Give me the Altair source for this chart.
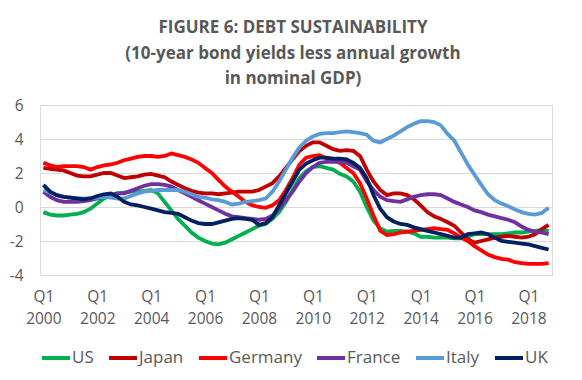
import altair as alt
import pandas as pd

# ---- data (quarterly, 2000Q1 .. 2018Q4) ----
start_year = 2000
n_quarters = 76
tick_years = [2000, 2002, 2004, 2006, 2008, 2010, 2012, 2014, 2016, 2018]
countries = ["US", "Japan", "Germany", "France", "Italy", "UK"]
colors = ["#00B050", "#C00000", "#FF0000", "#7030A0", "#5B9BD5", "#002060"]

us = [-0.3, -0.45, -0.5, -0.5, -0.45, -0.4, -0.3, -0.1,
      0.2, 0.5, 0.7, 0.8, 0.85, 0.9, 0.9, 0.95,
      1.0, 0.8, 0.3, -0.2, -0.7, -1.1, -1.5, -1.8,
      -2.0, -2.15, -2.2, -2.1, -1.9, -1.7, -1.5, -1.3,
      -1.1, -1.0, -0.7, -0.3, 0.3, 1.0, 1.7, 2.1,
      2.35, 2.4, 2.3, 2.2, 1.95, 1.8, 1.5, 0.9,
      0.0, -0.8, -1.25, -1.45, -1.4, -1.4, -1.45, -1.55,
      -1.75, -1.75, -1.8, -1.8, -1.8, -1.85, -1.85, -1.75,
      -1.6, -1.6, -1.6, -1.6, -1.6, -1.55, -1.5, -1.5,
      -1.45, -1.4, -1.35, -1.4]
japan = [2.3, 2.25, 2.2, 2.15, 2.0, 1.85, 1.8, 1.8,
         1.9, 2.0, 2.0, 1.85, 1.7, 1.75, 1.8, 1.9,
         1.95, 1.85, 1.75, 1.5, 1.3, 1.1, 0.95, 0.85,
         0.8, 0.8, 0.75, 0.8, 0.85, 0.9, 0.9, 0.9,
         1.0, 1.2, 1.4, 1.8, 2.3, 2.8, 3.3, 3.6,
         3.8, 3.8, 3.6, 3.4, 3.3, 3.35, 3.3, 3.0,
         2.2, 1.5, 1.0, 0.7, 0.8, 0.8, 0.7, 0.45,
         0.1, -0.3, -0.55, -0.7, -0.9, -1.1, -1.5, -1.9,
         -2.1, -2.0, -1.9, -1.8, -1.75, -1.7, -1.75, -1.8,
         -1.75, -1.6, -1.3, -1.05]
germany = [2.6, 2.45, 2.35, 2.4, 2.4, 2.4, 2.35, 2.2,
           2.35, 2.45, 2.5, 2.6, 2.75, 2.85, 2.95, 3.0,
           3.0, 2.95, 3.0, 3.15, 3.05, 2.95, 2.8, 2.6,
           2.3, 2.0, 1.6, 1.2, 0.9, 0.6, 0.3, 0.1,
           0.0, -0.05, 0.1, 0.4, 1.0, 1.7, 2.5, 2.9,
           3.0, 3.05, 2.85, 2.75, 2.6, 2.3, 2.0, 1.4,
           0.5, -0.5, -1.4, -1.65, -1.6, -1.5, -1.45, -1.4,
           -1.35, -1.3, -1.25, -1.3, -1.35, -1.55, -1.8, -2.0,
           -2.3, -2.55, -2.8, -2.95, -3.05, -3.1, -3.25, -3.3,
           -3.35, -3.35, -3.35, -3.3]
france = [0.9, 0.6, 0.4, 0.3, 0.3, 0.3, 0.35, 0.4,
          0.5, 0.6, 0.7, 0.8, 0.8, 0.95, 1.1, 1.25,
          1.35, 1.35, 1.3, 1.2, 1.0, 0.8, 0.6, 0.4,
          0.2, 0.0, -0.2, -0.4, -0.55, -0.6, -0.65, -0.7,
          -0.75, -0.7, -0.5, -0.1, 0.4, 0.9, 1.5, 2.0,
          2.35, 2.6, 2.65, 2.65, 2.65, 2.6, 2.4, 2.2,
          1.5, 1.0, 0.6, 0.4, 0.35, 0.3, 0.45, 0.6,
          0.7, 0.75, 0.75, 0.7, 0.5, 0.3, 0.15, 0.0,
          -0.2, -0.3, -0.45, -0.55, -0.65, -0.75, -0.9, -1.15,
          -1.35, -1.45, -1.5, -1.6]
italy = [1.0, 0.85, 0.7, 0.6, 0.55, 0.5, 0.5, 0.5,
         0.55, 0.6, 0.55, 0.5, 0.5, 0.65, 0.8, 0.9,
         0.95, 1.0, 1.0, 1.0, 1.0, 0.9, 0.75, 0.6,
         0.55, 0.45, 0.4, 0.3, 0.15, 0.2, 0.3, 0.35,
         0.4, 0.5, 0.9, 1.5, 2.2, 2.9, 3.5, 3.9,
         4.15, 4.3, 4.35, 4.35, 4.4, 4.45, 4.4, 4.35,
         4.25, 3.9, 3.8, 4.0, 4.2, 4.45, 4.7, 4.9,
         5.05, 5.05, 5.0, 4.8, 4.3, 3.9, 3.2, 2.5,
         1.9, 1.3, 0.75, 0.4, 0.2, 0.05, -0.15, -0.3,
         -0.4, -0.45, -0.35, -0.05]
uk = [1.3, 0.9, 0.7, 0.6, 0.55, 0.5, 0.45, 0.5,
      0.65, 0.75, 0.8, 0.6, 0.3, 0.15, 0.1, 0.0,
      -0.1, -0.2, -0.3, -0.35, -0.4, -0.6, -0.8, -0.95,
      -1.0, -1.0, -0.9, -0.8, -0.7, -0.65, -0.7, -0.75,
      -1.05, -0.95, -0.6, 0.1, 0.8, 1.5, 2.2, 2.55,
      2.75, 2.9, 2.9, 2.85, 2.85, 2.8, 2.6, 2.3,
      1.7, 0.7, -0.1, -0.6, -0.85, -1.0, -1.05, -1.2,
      -1.3, -1.4, -1.5, -1.6, -1.7, -1.8, -1.8, -1.6,
      -1.55, -1.5, -1.6, -1.8, -2.0, -2.05, -2.1, -2.15,
      -2.2, -2.3, -2.4, -2.5]

series = [us, japan, germany, france, italy, uk]

rows = []
for name, vals in zip(countries, series):
    for i, v in enumerate(vals):
        rows.append({"idx": i, "value": v, "country": name})
df = pd.DataFrame(rows)

tick_idx = [(y - start_year) * 4 for y in tick_years]

FONT = "Open Sans"
GREY = "#595959"

chart = alt.Chart(df).mark_line(strokeWidth=3.8, clip=False).encode(
    x=alt.X("idx:Q",
            scale=alt.Scale(domain=[-0.5, n_quarters - 0.5], nice=False, zero=False),
            axis=alt.Axis(values=tick_idx, title=None, grid=False, ticks=False,
                          domain=True, domainColor="#D9D9D9", domainWidth=1,
                          labelExpr="['Q1', '' + (2000 + datum.value / 4)]",
                          labelFontSize=15.5, labelFont=FONT, labelColor=GREY,
                          labelLineHeight=22, labelPadding=14, labelBaseline="top",
                          labelFlush=False, labelOverlap=False)),
    y=alt.Y("value:Q",
            scale=alt.Scale(domain=[-4, 6], nice=False, zero=False),
            axis=alt.Axis(values=[-4, -2, 0, 2, 4, 6], title=None, grid=True,
                          gridColor="#D9D9D9", gridWidth=1, ticks=False, domain=False,
                          labelExpr="datum.value < 0 ? '-' + abs(datum.value) : '' + datum.value",
                          labelFontSize=15.5, labelFont=FONT, labelColor=GREY,
                          labelPadding=17)),
    color=alt.Color("country:N",
                    scale=alt.Scale(domain=countries, range=colors),
                    legend=alt.Legend(title=None, orient="none", direction="horizontal",
                                      legendX=0, legendY=237, padding=0,
                                      gridAlign="none",
                                      symbolType="stroke", symbolSize=784,
                                      symbolStrokeWidth=4, labelOffset=0,
                                      columnPadding=7, labelFontSize=17,
                                      labelFont=FONT, labelColor=GREY)),
    order=alt.Order("idx:Q"),
).properties(
    width=512,
    height=170,
    title=alt.TitleParams(
        text=["FIGURE 6: DEBT SUSTAINABILITY",
              "(10-year bond yields less annual growth",
              "in nominal GDP)"],
        font=FONT, fontSize=17, fontWeight="bold", color=GREY,
        lineHeight=25.5, anchor="middle", dx=-3, offset=10),
    autosize=alt.AutoSizeParams(type="none"),
    padding={"left": 32, "top": 97, "right": 22, "bottom": 100},
).configure_view(stroke=None).configure(background="white")

chart.save("out.html", embed_options={"renderer": "svg", "actions": False})
